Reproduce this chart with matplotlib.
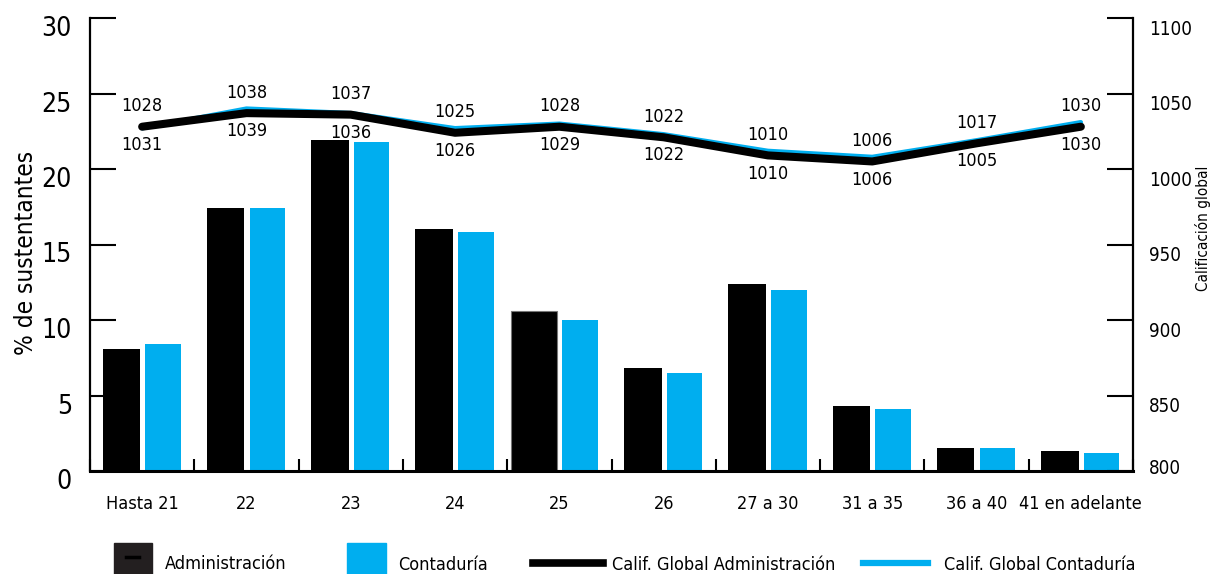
import matplotlib.pyplot as plt
import matplotlib.transforms as mtransforms
from matplotlib.patches import Rectangle
from matplotlib.lines import Line2D
import numpy as np

plt.rcParams['font.family'] = ['DejaVu Sans Condensed', 'DejaVu Sans']
plt.rcParams['font.stretch'] = 'condensed'

# datos
categorias = ['Hasta 21', '22', '23', '24', '25', '26', '27 a 30', '31 a 35', '36 a 40', '41 en adelante']
pct_admin = [8.1, 17.4, 21.9, 16.0, 10.6, 6.8, 12.4, 4.3, 1.5, 1.3]
pct_conta = [8.4, 17.4, 21.8, 15.8, 10.0, 6.5, 12.0, 4.1, 1.5, 1.2]
calif_admin = [1028, 1037, 1036, 1024, 1028, 1021, 1009, 1005, 1017, 1028]
calif_conta = [1027, 1040, 1037, 1027, 1030, 1023, 1012, 1008, 1019, 1031]
etiq_arriba = [1028, 1038, 1037, 1025, 1028, 1022, 1010, 1006, 1017, 1030]
etiq_abajo = [1031, 1039, 1036, 1026, 1029, 1022, 1010, 1006, 1005, 1030]

AZUL = '#00aeef'
W, H = 1213, 574

fig = plt.figure(figsize=(W / 100, H / 100), dpi=100)
ax = fig.add_axes([90 / W, 1 - 471 / H, (1133 - 90) / W, (471 - 18) / H])
x = np.arange(len(categorias))

barras = ax.bar(x - 0.2, pct_admin, 0.36, color='black', linewidth=0, zorder=2)
ax.bar(x + 0.2, pct_conta, 0.34, color=AZUL, linewidth=0, zorder=2)
# la barra de "25" aparece más ancha en el original
barras[4].set_x(barras[4].get_x() - 0.085)
barras[4].set_width(0.445)
barras[4].set_edgecolor('#777777')
barras[4].set_linewidth(0.8)
ax.set_xlim(-0.5, 9.5)
ax.set_ylim(0, 30)

ax.spines['top'].set_visible(False)
ax.spines['right'].set_visible(False)
ax.spines['left'].set_linewidth(1.6)
ax.spines['bottom'].set_linewidth(2.2)

ax.set_yticks([0, 5, 10, 15, 20, 25, 30])
ax.tick_params(axis='y', direction='in', length=19, width=1.5, labelsize=19, pad=13)
ax.set_xticks(x)
ax.set_xticklabels(categorias)
ax.set_xticks(np.arange(-0.5, 10, 1), minor=True)
ax.tick_params(axis='x', which='major', length=0, labelsize=13, pad=17)
ax.tick_params(axis='x', which='minor', direction='in', length=8.5, width=1.5)

ax.set_ylabel('% de sustentantes', fontsize=17.5)
ax.yaxis.set_label_coords(-0.05, 0.481)

desplaza = mtransforms.ScaledTranslation(0, -8 / 100, fig.dpi_scale_trans)
for t in ax.yaxis.get_major_ticks():
    t.label1.set_transform(t.label1.get_transform() + desplaza)

# eje derecho
ax2 = ax.twinx()
ax2.set_ylim(800, 1100)
ax2.set_yticks([800, 850, 900, 950, 1000, 1050, 1100])
for s in ['top', 'left', 'bottom']:
    ax2.spines[s].set_visible(False)
ax2.spines['right'].set_linewidth(1.6)
ax2.tick_params(axis='y', direction='in', length=19, width=1.5, labelsize=13.5, pad=11.5)
for t, v in zip(ax2.yaxis.get_major_ticks(), ax2.get_yticks()):
    dy = 5 if v == 800 else -9
    t.label2.set_transform(t.label2.get_transform() +
                           mtransforms.ScaledTranslation(0, dy / 100, fig.dpi_scale_trans))
ax2.set_ylabel('Calificación global', fontsize=11)
ax2.yaxis.set_label_coords(1.0595, 0.536)

ax2.plot(x, calif_conta, color=AZUL, lw=3.2, solid_capstyle='round', zorder=2)
ax2.plot(x, calif_admin, color='black', lw=5.8, solid_capstyle='round', zorder=3)
for i in x:
    ax2.text(i, calif_admin[i] + 13.5, str(etiq_arriba[i]), ha='center', va='center', fontsize=13)
    ax2.text(i, calif_admin[i] - 12, str(etiq_abajo[i]), ha='center', va='center', fontsize=13)

# leyenda
def fx(px):
    return px / W

def fy(py):
    return 1 - py / H

fig.add_artist(Rectangle((fx(114), fy(580)), fx(38), (580 - 543) / H, color='#231f20', transform=fig.transFigure))
fig.add_artist(Line2D([fx(126), fx(139)], [fy(557), fy(557)], color='black', lw=2.5, transform=fig.transFigure))
fig.text(fx(165), fy(564), 'Administración', fontsize=13, va='center')
fig.add_artist(Rectangle((fx(347), fy(580)), fx(39), (580 - 543) / H, color=AZUL, transform=fig.transFigure))
fig.text(fx(398), fy(565), 'Contaduría', fontsize=13, va='center')
fig.add_artist(Line2D([fx(533), fx(603)], [fy(563), fy(563)], color='black', lw=5.5, transform=fig.transFigure))
fig.text(fx(612), fy(565), 'Calif. Global Administración', fontsize=13, va='center')
fig.add_artist(Line2D([fx(863), fx(928)], [fy(563), fy(563)], color=AZUL, lw=4.5, transform=fig.transFigure))
fig.text(fx(944), fy(565), 'Calif. Global Contaduría', fontsize=13, va='center')

fig.savefig('out.png', dpi=100)
